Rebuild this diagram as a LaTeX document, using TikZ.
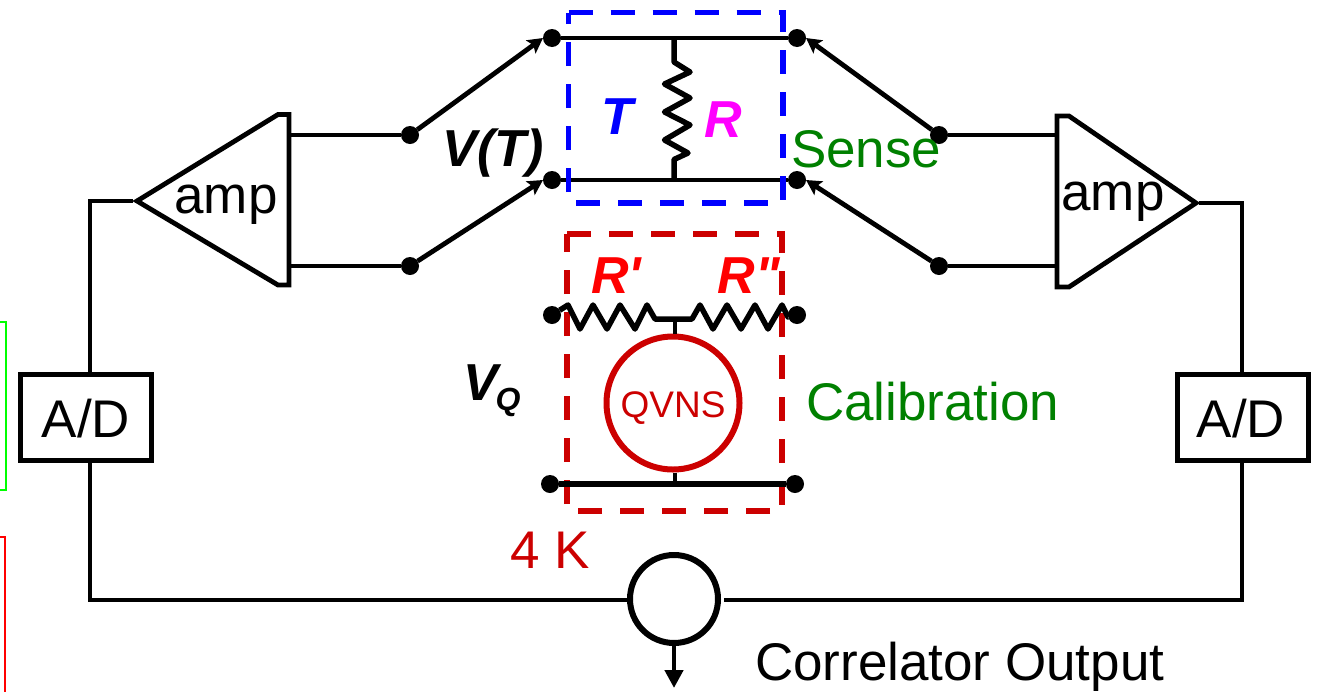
\documentclass[tikz,border=0pt]{standalone}
\usepackage{fontspec}
\setmainfont{Liberation Sans}
\newfontfamily\plainsans{Liberation Sans}
\usetikzlibrary{arrows.meta}
\definecolor{qred}{RGB}{204,0,0}
\definecolor{sgreen}{RGB}{0,128,0}
\tikzset{
  wire/.style={draw=black,line width=4.8pt,line join=miter},
  zigwire/.style={draw=black,line width=5.5pt,line join=round},
  thickwire/.style={draw=black,line width=5.5pt},
  dot/.style={circle,fill=black,draw=none,minimum size=18pt,inner sep=0pt,outer sep=0pt},
  swarrow/.style={wire,-{Stealth[length=15pt,width=16pt,inset=3pt]}},
  lbl/.style={inner sep=0pt,outer sep=0pt,anchor=base,font=\fontsize{53}{53}\selectfont},
  lblw/.style={lbl,anchor=base west},
  bi/.style={lbl,font=\fontsize{52}{52}\plainsans\bfseries\itshape},
  blockbox/.style={draw=black,line width=5pt,fill=white,minimum width=131pt,minimum height=86pt,inner sep=0pt},
  bluebox/.style={draw=blue,line width=5.5pt,dash pattern=on 24pt off 18pt},
  redbox/.style={draw=qred,line width=5.5pt,dash pattern=on 24pt off 18pt},
}
\begin{document}
\begin{tikzpicture}[x=1pt,y=-1pt]
\useasboundingbox (0,0) rectangle (1317,691);
% cropped side frames
\draw[draw={rgb,255:red,0;green,255;blue,0},line width=2pt] (-5,322) -- (6,322) -- (6,490) -- (-5,490);
\draw[draw=red,line width=2pt] (-5,537) -- (5,537) -- (5,700);
% terminals
\node[dot] (tl) at (552,38) {};
\node[dot] (tr) at (797,38) {};
\node[dot] (ml) at (552,180) {};
\node[dot] (mr) at (797,180) {};
\node[dot] (al1) at (410,135) {};
\node[dot] (al2) at (410,266) {};
\node[dot] (ar1) at (939,135) {};
\node[dot] (ar2) at (939,266) {};
\node[dot] (cl) at (552,315) {};
\node[dot] (cr) at (797,315) {};
\node[dot] (bl) at (550,484) {};
\node[dot] (br) at (795,484) {};
% amplifiers
\coordinate (lampTip) at (137,201);
\coordinate (rampTip) at (1196,203);
\coordinate (lampIn1) at (289,135);
\coordinate (lampIn2) at (289,266);
\coordinate (rampIn1) at (1057,135);
\coordinate (rampIn2) at (1057,266);
\coordinate (lampOut) at (133,201);
\coordinate (rampOut) at (1199,203);
\coordinate (lcorner) at (90,201);
\coordinate (rcorner) at (1242,203);
\draw[wire] (lampTip) -- (278,114.5) -- (289,114.5) -- (289,285) -- (278,285) -- cycle;
\draw[wire] (rampTip) -- (1069,116) -- (1057,116) -- (1057,287) -- (1069,287) -- cycle;
\node[lbl] (lamp) at (226,213) {amp};
\node[lbl] (ramp) at (1113,210) {amp};
% A/D and correlator
\node[blockbox] (adl) at (86,417) {};
\node[blockbox] (adr) at (1243,417) {};
\node[lbl] (adlt) at (86,437) {A/D};
\node[lbl] (adrt) at (1241,437) {A/D};
\node[circle,draw=black,line width=6pt,minimum size=88pt,inner sep=0pt,outer sep=3pt] (corr) at (674,599) {};
\coordinate (outTip) at (674,688);
\coordinate (lbot) at (90,600);
\coordinate (rbot) at (1242,600);
\draw[wire] (lampOut) -- (lcorner) -- (lcorner |- adl.north);
\draw[wire] (rampOut) -- (rcorner) -- (rcorner |- adr.north);
\draw[wire] (lcorner |- adl.south) -- (lbot) -- (corr.west |- lbot);
\draw[wire,shorten >=3pt] (rcorner |- adr.south) -- (rbot) -- (corr.east |- rbot);
\draw[wire,-{Triangle[length=18pt,width=18pt]}] (corr.south) -- (outTip);
% amp to switch wires
\draw[wire] (lampIn1) -- (al1);
\draw[wire] (lampIn2) -- (al2);
\draw[wire] (rampIn1) -- (ar1);
\draw[wire] (rampIn2) -- (ar2);
% switches
\draw[swarrow] (al1) -- (tl.west);
\draw[swarrow] (al2) -- (ml.west);
\draw[swarrow] (ar1) -- (tr.east);
\draw[swarrow] (ar2) -- (mr.east);
% sense resistor
\draw[wire] (tl) -- (tr);
\draw[wire] (ml) -- (mr);
\coordinate (rt) at (674,38);
\coordinate (rb) at (674,181);
\draw[zigwire] (rt) -- (674,62) -- (690,72) -- (664.5,84) -- (690,98) -- (664.5,112) -- (690,125) -- (664.5,140) -- (688,153) -- (674,159.5) -- (rb);
% boxes
\draw[bluebox] (568.7,12.5) -- (783,12.5) -- (783,203) -- (568.7,203) -- cycle;
\draw[redbox] (567,234) -- (782,234) -- (782,511) -- (567,511) -- cycle;
% calibration
\node[circle,draw=qred,line width=6pt,fill=white,minimum size=133pt,inner sep=0pt,outer sep=3pt] (qvns) at (673,403) {};
\coordinate (jt) at (675,319);
\coordinate (jb) at (675,484);
\draw[zigwire] (cl) -- (568,305) -- (580,329) -- (593,305) -- (607,329) -- (620,305) -- (635,329) -- (647,305) -- (655,319) -- (692,319) -- (700,305) -- (713,329) -- (727,305) -- (741,329) -- (755,305) -- (768,329) -- (782,305) -- (788,317) -- (cr);
\draw[wire] (jt) -- (jt |- qvns.north);
\draw[wire] (jb |- qvns.south) -- (jb);
\draw[thickwire] (bl) -- (br);
% labels
\node[lbl,text=qred,font=\fontsize{37}{37}\selectfont] (qvnst) at (673,417) {QVNS};
\node[bi,text=blue] (tlab) at (617,134) {T};
\node[bi,text={rgb,255:red,255;green,0;blue,255}] (rlab) at (723,137) {R};
\node[bi] (vt) at (493,166) {V(T)};
\node[bi,text=red] (rp) at (616,293) {R'};
\node[bi,text=red] (rpp) at (749,293) {R"};
\node[bi,anchor=base west] (vq) at (463,400) {V\kern-2pt\raisebox{-10pt}{\fontsize{32}{32}\selectfont Q}};
\node[lblw,text=sgreen] (sense) at (791,167) {Sense};
\node[lblw,text=sgreen] (calib) at (806,420) {Calibration};
\node[lblw,text=qred] (fk) at (510,568) {4 K};
\node[lblw] (cout) at (755,680) {Correlator Output};
\end{tikzpicture}
\end{document}
